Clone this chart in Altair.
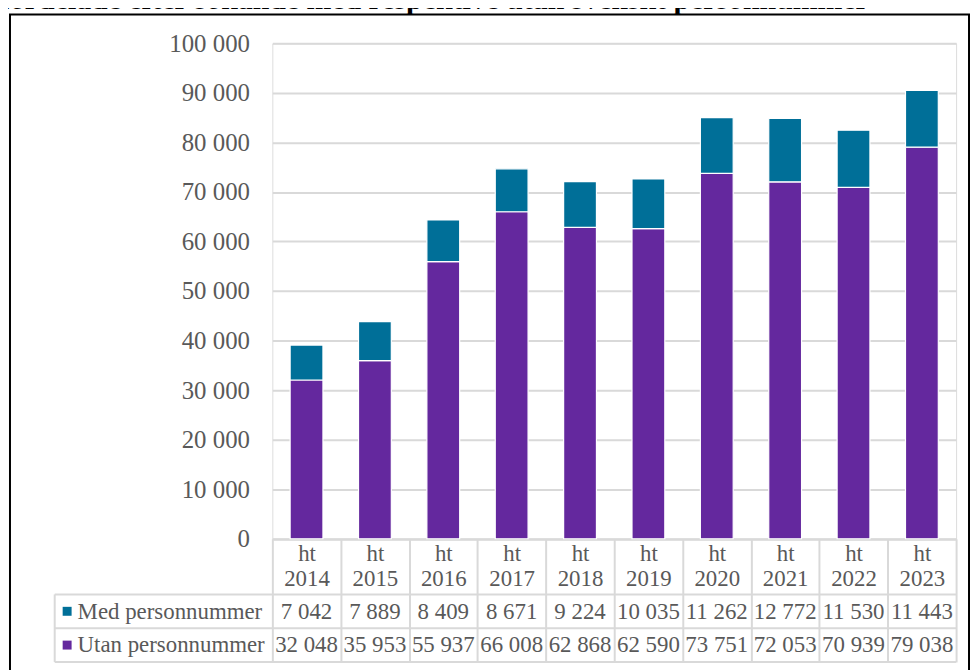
import altair as alt
import pandas as pd

# ---- data ----
terms = ["ht 2014", "ht 2015", "ht 2016", "ht 2017", "ht 2018",
         "ht 2019", "ht 2020", "ht 2021", "ht 2022", "ht 2023"]
med = [7042, 7889, 8409, 8671, 9224, 10035, 11262, 12772, 11530, 11443]
utan = [32048, 35953, 55937, 66008, 62868, 62590, 73751, 72053, 70939, 79038]
series_names = ["Med personnummer", "Utan personnummer"]
series_colors = ["#006F98", "#64289E"]
title_text = "fördelade efter sökande med respektive utan svenskt personnummer"
y_ticks = list(range(0, 100001, 10000))

rows = []
for i, t in enumerate(terms):
    rows.append({"term": t, "series": series_names[1], "value": utan[i], "ord": 0})
    rows.append({"term": t, "series": series_names[0], "value": med[i], "ord": 1})
df = pd.DataFrame(rows)
med_df = df[df["series"] == series_names[0]]
utan_df = df[df["series"] == series_names[1]]
one = pd.DataFrame({"a": [0]})

FONT = "Liberation Serif"
GRAY_TXT = "#595959"
GRID = "#D9D9D9"

W, H = 688, 498.5

x_enc = alt.X(
    "term:N",
    sort=terms,
    scale=alt.Scale(paddingInner=0, paddingOuter=0),
    axis=alt.Axis(
        title=None,
        labelAngle=0,
        labelExpr="split(datum.label, ' ')",
        labelFont=FONT,
        labelFontSize=23,
        labelColor=GRAY_TXT,
        labelLineHeight=25.5,
        labelBaseline="alphabetic",
        labelPadding=-102,
        tickBand="extent",
        ticks=True,
        tickSize=124,
        tickColor=GRID,
        tickWidth=2,
        domainColor=GRID,
        domainWidth=2,
        grid=False,
    ),
)

bars = alt.Chart(df).mark_bar(
    width=alt.RelativeBandSize(0.48), stroke="white", strokeWidth=1.2
).encode(
    x=x_enc,
    y=alt.Y(
        "value:Q",
        stack="zero",
        scale=alt.Scale(domain=[0, 100000], nice=False),
        axis=alt.Axis(
            title=None,
            values=y_ticks,
            format=",d",
            labelFont=FONT,
            labelFontSize=25,
            labelColor=GRAY_TXT,
            labelPadding=23,
            ticks=False,
            domain=False,
            gridColor=GRID,
            gridWidth=2,
        ),
    ),
    color=alt.Color("series:N", scale=alt.Scale(domain=series_names, range=series_colors), legend=None),
    order=alt.Order("ord:Q", sort="ascending"),
)

val_med = alt.Chart(med_df).mark_text(
    font=FONT, fontSize=23, color=GRAY_TXT, baseline="alphabetic", align="center"
).encode(
    x=alt.X("term:N", sort=terms),
    y=alt.value(579),
    text=alt.Text("value:Q", format=",d"),
)
val_utan = alt.Chart(utan_df).mark_text(
    font=FONT, fontSize=23, color=GRAY_TXT, baseline="alphabetic", align="center"
).encode(
    x=alt.X("term:N", sort=terms),
    y=alt.value(612.5),
    text=alt.Text("value:Q", format=",d"),
)

lab_med = alt.Chart(one).mark_text(
    font=FONT, fontSize=23, color=GRAY_TXT, baseline="alphabetic", align="left"
).encode(x=alt.value(-196), y=alt.value(579), text=alt.value(series_names[0]))
lab_utan = alt.Chart(one).mark_text(
    font=FONT, fontSize=23, color=GRAY_TXT, baseline="alphabetic", align="left"
).encode(x=alt.value(-196), y=alt.value(612.5), text=alt.value(series_names[1]))

sq_med = alt.Chart(one).mark_point(shape="square", filled=True, size=81, opacity=1,
                                   color=series_colors[0]).encode(x=alt.value(-206.5), y=alt.value(571.5))
sq_utan = alt.Chart(one).mark_point(shape="square", filled=True, size=81, opacity=1,
                                    color=series_colors[1]).encode(x=alt.value(-206.5), y=alt.value(605.5))

def hline(yv):
    return alt.Chart(one).mark_rule(color=GRID, strokeWidth=2).encode(
        x=alt.value(-219), x2=alt.value(W), y=alt.value(yv))

vline_left = alt.Chart(one).mark_rule(color=GRID, strokeWidth=2).encode(
    x=alt.value(-219), y=alt.value(554.5), y2=alt.value(622.5))

border = alt.Chart(one).mark_rect(fillOpacity=0, stroke="black", strokeWidth=2).encode(
    x=alt.value(-264), x2=alt.value(701), y=alt.value(-29), y2=alt.value(720))

title = alt.Chart(one).mark_text(
    font=FONT, fontSize=30, fontWeight="bold", color="black", align="left", baseline="alphabetic"
).encode(x=alt.value(-274), y=alt.value(-34.5), text=alt.value(title_text))

chart = alt.layer(
    bars, hline(554.5), hline(588.5), hline(622.5), vline_left,
    val_med, val_utan, lab_med, lab_utan, sq_med, sq_utan, border, title
).properties(
    width=W,
    height=H,
    autosize=alt.AutoSizeParams(type="none"),
    padding={"left": 266, "top": 33.5, "right": 14, "bottom": 130},
    background="white",
).configure_view(stroke=None).configure(
    locale={"number": {"decimal": ",", "thousands": " ", "grouping": [3], "currency": ["", " kr"]}}
)

chart.save("out.html", embed_options={"renderer": "svg", "actions": False})
